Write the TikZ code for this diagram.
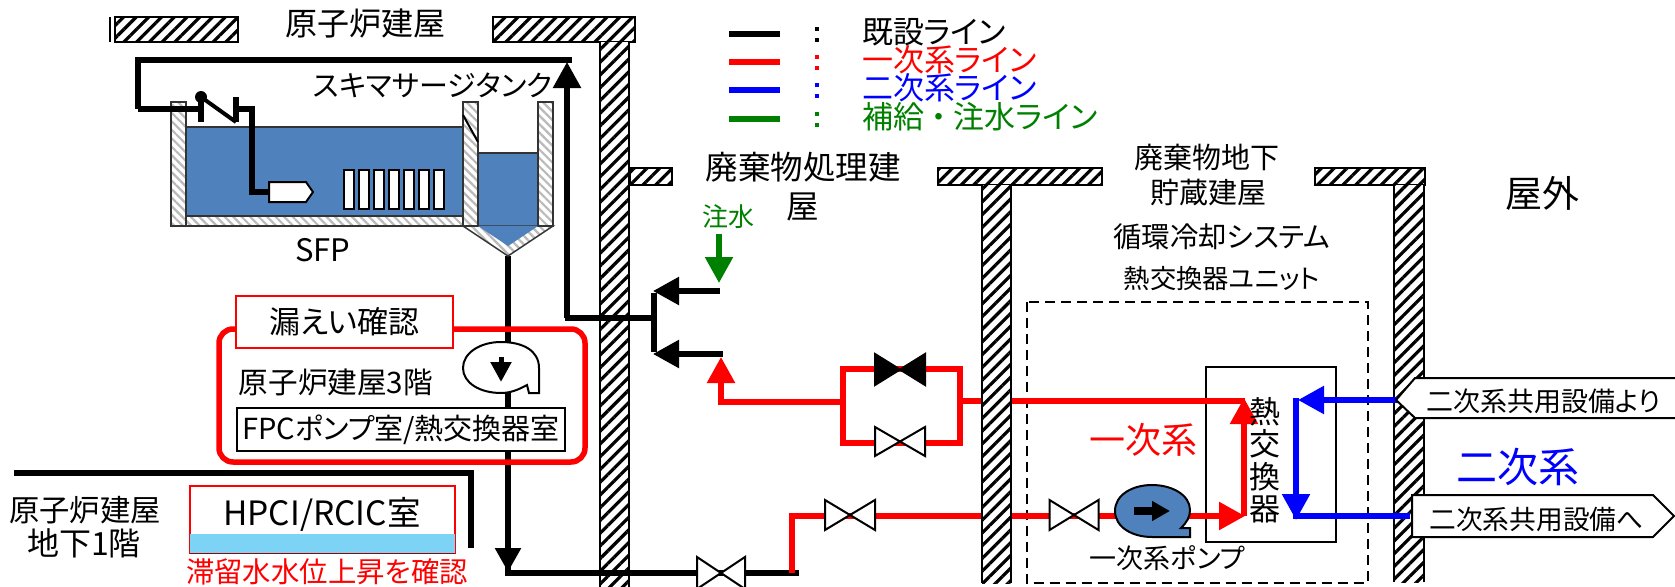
\documentclass[tikz,border=0pt]{standalone}
\usepackage{fontspec}
\setmainfont[RawFeature=+palt]{Noto Sans CJK JP}
\usetikzlibrary{arrows.meta,patterns.meta}
\definecolor{wtr}{HTML}{4F81BD}
\definecolor{lgt}{HTML}{7DD3F6}
\definecolor{grn}{HTML}{008000}
\newcommand{\fs}[1]{\fontsize{#1}{#1}\selectfont}
\newcommand{\bowvalve}[5]{% x y halfw halfh fill
  \draw[line width=2pt,fill=#5] (#1-#3,#2-#4)--(#1+#3,#2+#4)--(#1+#3,#2-#4)--(#1-#3,#2+#4)--cycle;}
\tikzset{
  wallfill/.style={preaction={fill=white},pattern={Lines[angle=45,distance=9pt,line width=3.2pt]},pattern color=black},
  wallhatch/.style={wallfill,draw=black,line width=1.6pt},
  poolhatch/.style={draw=black!80,line width=1.5pt,preaction={fill=white},pattern={Lines[angle=-45,distance=6pt,line width=2.2pt]},pattern color=black!27},
  pipeline/.style={line width=5.5pt},
  bigtip/.style={-{Triangle[length=26pt,width=27pt]}},
  lbl/.style={inner sep=0pt,anchor=center},
  rackbar/.style={draw=black,line width=1.6pt,fill=white},
}
\begin{document}
\begin{tikzpicture}[x=1pt,y=-1pt]
\clip (0,0) rectangle (1675,586);
\useasboundingbox (0,0) rectangle (1675,586);
\fill[white] (0,0) rectangle (1675,586);

% heat-exchanger unit and exchanger box
\draw[line width=2.6pt,dash pattern=on 10pt off 6pt] (1027,302) rectangle (1368,583);
\draw[line width=2pt,fill=white] (1206,367) rectangle (1336,542);

% reactor building walls (black pipes pass in front of these)
\draw[wallhatch] (115,17) rectangle (238,42);
\draw[line width=2pt] (110,17)--(110,42);
\draw[wallhatch] (493,17) rectangle (635,42);
\draw[wallhatch] (600,42)--(600,590)--(629,590)--(629,42);
\draw[wallhatch] (630,168) rectangle (672,185);

% black pipes
\draw[pipeline,black] (508,256)--(508,573)--(799,573);
\draw[pipeline,black,{Triangle[length=24pt,width=25pt]}-] (508,572)--(508,500);
\draw[pipeline,black] (138,109)--(138,60)--(572,60);
\draw[pipeline,black,bigtip] (567,318)--(567,62);
\draw[pipeline,black] (565,318)--(654,318);
\draw[pipeline,black] (654,293)--(654,352);
\draw[pipeline,black,bigtip] (720,291)--(653,291);
\draw[pipeline,black,bigtip] (723,354)--(653,354);
% green
\draw[pipeline,grn,bigtip] (719,234)--(719,283);
% red pipes
\draw[pipeline,red] (792,573)--(792,516)--(1218,516);
\draw[pipeline,red,bigtip] (843,402)--(721,402)--(721,357);
\draw[pipeline,red] (843,369)--(960,369)--(960,443)--(843,443)--cycle;
\draw[pipeline,red] (960,401)--(1245,401);
\draw[pipeline,red,bigtip] (1190,516)--(1245,516);
\draw[pipeline,red,bigtip] (1244,516)--(1244,398);

% other walls (in front of the red pipes)
\draw[wallhatch] (938,168) rectangle (1102,185);
\fill[wallfill] (982,185) rectangle (1011,583);
\draw[line width=1.6pt] (982,185)--(982,583) (1011,583)--(1011,185);
\draw[wallhatch] (1315,168) rectangle (1425,185);
\fill[wallfill] (1394,185) rectangle (1424,582);
\draw[line width=1.6pt] (1394,185)--(1394,582) (1424,582)--(1424,185);

% SFP
\fill[wtr] (186,127) rectangle (463,216);
\draw[line width=1.5pt,black!80] (186,127)--(463,127);
\fill[wtr] (478,153) rectangle (538,226);
\draw[line width=1.5pt,black!80] (478,153)--(538,153);
\draw[poolhatch] (171,102) rectangle (186,226);
\draw[poolhatch] (186,216) rectangle (463,226);
\draw[poolhatch] (463,102) rectangle (478,226);
\draw[poolhatch] (538,102) rectangle (553,226);
\draw[poolhatch] (463,226)--(553,226)--(508,256)--cycle;
\fill[wtr] (478,226)--(538,226)--(508,246)--cycle;
\draw[line width=2pt] (463,115)--(478,142);
\foreach \i in {0,...,6}{
  \draw[rackbar] (344+15*\i,170) rectangle +(10,39);
}
% check valve and nozzle line
\draw[pipeline,black] (138,109)--(201,109);
\draw[pipeline,black] (236,109)--(252,109)--(252,192)--(270,192);
\draw[pipeline,black] (201,97)--(201,122);
\draw[pipeline,black] (236,97)--(236,122);
\draw[line width=4pt,black] (201,97)--(236,122);
\fill[black] (201,97) circle (6);
\draw[line width=2pt,fill=white] (269,182)--(306,182)--(313,192)--(306,202)--(269,202)--cycle;

% FPC pump (shape)
\draw[line width=2pt,fill=white] (539,393)--(539,368) .. controls (539,350) and (522,342) .. (501,342) .. controls (480,342) and (463,353) .. (463,368) .. controls (463,383) and (480,393) .. (501,393) .. controls (510,393) and (518,390) .. (527,385) -- (529,393) -- cycle;
\draw[line width=5pt,-{Triangle[length=20pt,width=20pt]}] (501,357)--(501,382);

% third floor room
\draw[line width=5.5pt,red,rounded corners=14pt] (219,329) rectangle (585,462);
\node[lbl,draw=red,line width=2pt,fill=white,minimum width=217pt,minimum height=52pt,font=\fs{31}] (leak) at (344.5,322) {漏えい確認};
\node[lbl,font=\fs{29.6}] (floor3) at (336,382) {原子炉建屋3階};
\node[lbl,draw=black,line width=1.6pt,fill=white,minimum width=328pt,minimum height=43pt,font=\fs{29}] (fpc) at (401,429.5) {FPCポンプ室/熱交換器室};

% basement
\draw[line width=6pt] (14,473)--(470.5,473)--(470.5,548);
\node[lbl,font=\fs{30.3}] (rb1) at (85,510) {原子炉建屋};
\node[lbl,font=\fs{32}] (rb2) at (84,543) {地下1階};
\draw[draw=red,line width=2pt,fill=white] (190,486) rectangle (455,553);
\fill[lgt] (190,534) rectangle (455,554);
\draw[red!60!black,line width=1pt] (190,553)--(455,553);
\node[lbl,font=\fs{33.5}] (hpci) at (322,514) {HPCI/RCIC室};
\node[lbl,red,font=\fs{28.4}] (rise) at (327,572) {滞留水水位上昇を確認};

% valves
\bowvalve{721}{573}{24}{16}{white}
\bowvalve{850}{515}{25}{15}{white}
\bowvalve{900}{369.5}{25}{15.5}{black}
\bowvalve{900}{441.5}{25}{14.5}{white}
\bowvalve{1074}{515}{24.5}{15}{white}

% primary pump
\draw[line width=2pt,fill=wtr] (1190,537)--(1190,528)--(1181,528) .. controls (1187,522) and (1190,517) .. (1190,510) .. controls (1190,495) and (1172,485) .. (1152,485) .. controls (1132,485) and (1115,495) .. (1115,511) .. controls (1115,527) and (1132,537) .. (1152,537) -- cycle;
\draw[line width=8pt,-{Triangle[length=18pt,width=19pt]}] (1134,511)--(1170,511);

% blue pipes and tags
\draw[pipeline,blue,bigtip] (1398,400)--(1298,400);
\draw[pipeline,blue] (1410,516)--(1296,516)--(1296,500);
\draw[pipeline,blue,bigtip] (1296,398)--(1296,520);
\draw[line width=2pt,fill=white] (1680,378)--(1415,378)--(1396,400)--(1415,418)--(1680,418);
\node[lbl,font=\fs{27}] (from2) at (1543.5,401) {二次系共用設備より};
\draw[line width=2pt,fill=white] (1412,495)--(1653,495)--(1674,516)--(1653,537)--(1412,537)--cycle;
\node[lbl,font=\fs{26.7}] (to2) at (1536.5,519) {二次系共用設備へ};

% exchanger label
\node[lbl,align=center,font=\fontsize{31}{32.5}\selectfont] (hx) at (1265,460) {熱\\交\\換\\器};

% labels
\node[lbl,font=\fs{32}] (rbtitle) at (365,24) {原子炉建屋};
\node[lbl,font=\fs{29}] (skim) at (433,85) {スキマサージタンク};
\node[lbl,font=\fs{31}] (sfp) at (323,250) {SFP};
\node[lbl,font=\fs{32.5}] (waste1) at (803,167) {廃棄物処理建};
\node[lbl,font=\fs{32.5}] (waste2) at (803,207) {屋};
\node[lbl,grn,font=\fs{26}] (inj) at (728,217) {注水};
\node[lbl,font=\fs{29}] (ug1) at (1207,158) {廃棄物地下};
\node[lbl,font=\fs{29}] (ug2) at (1208,193) {貯蔵建屋};
\node[lbl,font=\fs{37}] (out) at (1542,193) {屋外};
\node[lbl,font=\fs{28.4}] (sys) at (1222,237) {循環冷却システム};
\node[lbl,font=\fs{26.3}] (unit) at (1222,279) {熱交換器ユニット};
\node[lbl,red,font=\fs{36}] (prim) at (1143,440) {一次系};
\node[lbl,blue,font=\fs{41}] (sec) at (1518,467) {二次系};
\node[lbl,font=\fs{27}] (ppump) at (1167,558) {一次系ポンプ};

% legend
\foreach \yy/\cc/\tt in {34/black/既設ライン,62/red/一次系ライン,90/blue/二次系ライン,119/grn/{補給\hspace{7pt}・\hspace{7pt}注水ライン}}{
  \draw[line width=6pt,\cc] (729,\yy)--(780,\yy);
  \fill[\cc] (815,\yy-7) rectangle +(4,4);
  \fill[\cc] (815,\yy+4) rectangle +(4,4);
  \node[inner sep=0pt,anchor=west,text=\cc,font=\fs{31}] at (862,\yy-2) {\tt};
}
\end{tikzpicture}
\end{document}
